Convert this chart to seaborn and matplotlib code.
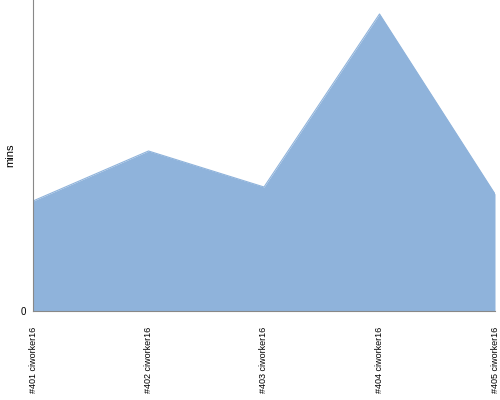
import matplotlib
matplotlib.use("Agg")
import matplotlib.pyplot as plt
import seaborn as sns
import pandas as pd

# data
workers = ["#401 ciworker16", "#402 ciworker16", "#403 ciworker16",
           "#404 ciworker16", "#405 ciworker16"]
mins = [110, 160, 124, 297, 117]

df = pd.DataFrame({"worker": workers, "mins": mins})
df["pos"] = range(len(df))

sns.set_style("white")
plt.rcParams["font.family"] = ["Liberation Sans", "DejaVu Sans"]
fig = plt.figure(figsize=(5, 4), dpi=100)
ax = fig.add_axes([0.066, 0.2225, 0.924, 0.7775])

color = "#8fb3db"
sns.lineplot(data=df, x="pos", y="mins", color=color, linewidth=0.8, ax=ax)
ax.fill_between(df["pos"], df["mins"], 0, color=color, linewidth=0)

ax.set_xlim(0, len(df) - 1)
ax.set_ylim(0, 311)
ax.set_xticks(df["pos"])
ax.set_xticklabels(df["worker"], rotation=90, fontsize=6.5, va="top",
                   color="black")
ax.set_yticks([0])
ax.set_yticklabels(["0"], fontsize=7, color="black")
ax.set_xlabel("")
ax.set_ylabel("mins", fontsize=8, color="black")
ax.tick_params(axis="y", length=3, color="#888888", pad=2)
ax.tick_params(axis="x", length=0, pad=11)

for side in ["top", "right"]:
    ax.spines[side].set_visible(False)
for side in ["left", "bottom"]:
    ax.spines[side].set_color("#888888")
    ax.spines[side].set_linewidth(0.8)

fig.savefig("out.png", dpi=100)
